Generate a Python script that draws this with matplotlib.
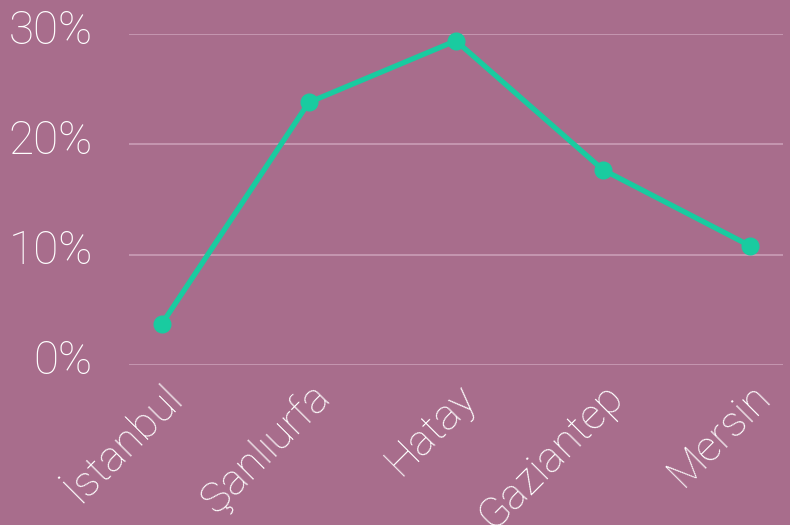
import matplotlib.pyplot as plt
import matplotlib.transforms as mtransforms

# share by province
cities = ["İstanbul", "Şanlıurfa", "Hatay", "Gaziantep", "Mersin"]
shares = [3.7, 23.8, 29.4, 17.7, 10.8]
yticks = [0, 10, 20, 30]

bg = "#a86d8c"
teal = "#19cba0"

plt.rcParams['font.family'] = ['Roboto', 'DejaVu Sans']

fig = plt.figure(figsize=(7.9, 5.25), dpi=100, facecolor=bg)
ax = fig.add_axes([0.163, 0.305, 0.828, 0.63], facecolor=bg)

x = list(range(len(cities)))
ax.plot(x, shares, color=teal, linewidth=3.8, marker="o", markersize=12,
        clip_on=False, zorder=3)

ax.set_xlim(-0.224, 4.224)
ax.set_ylim(0, 30)
ax.set_yticks(yticks)
ax.set_yticklabels([f"{v}%" for v in yticks])
ax.yaxis.grid(True, color="#c89ab3", linewidth=1.3)
ax.set_axisbelow(True)

ax.set_xticks(x)
ax.set_xticklabels(cities, rotation=45, ha="right", rotation_mode="anchor")

for s in ax.spines.values():
    s.set_visible(False)
ax.tick_params(axis="y", length=0, pad=26, labelsize=33, labelcolor="white")
ax.tick_params(axis="x", length=0, pad=8, labelsize=31, labelcolor="white")
for t in ax.get_xticklabels() + ax.get_yticklabels():
    t.set_fontweight("light")

# lift y labels a little above their gridline
shift = mtransforms.ScaledTranslation(0, 8 / 100, fig.dpi_scale_trans)
for t in ax.get_yticklabels():
    t.set_transform(t.get_transform() + shift)

fig.savefig("out.png", dpi=100, facecolor=bg)
